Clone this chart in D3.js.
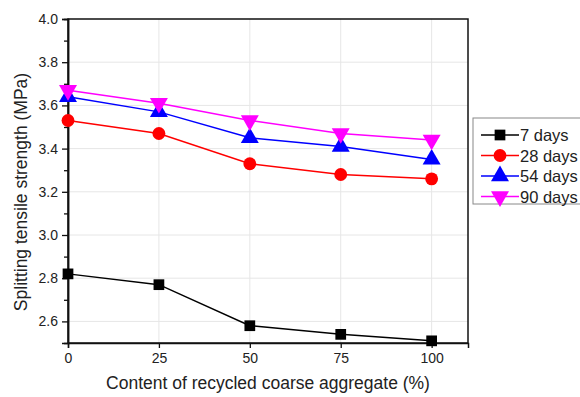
<!DOCTYPE html>
<html lang="en">
  <head>
    <script src="https://d3js.org/d3.v7.min.js"></script>
    <style>
      body { margin: 0; background: #fff; }
      text { font-family: "Liberation Sans", Arial, sans-serif; fill: #222; }
    </style>
  </head>
  <body>
    <div id="chart"></div>
    <script>
      const contents = [0, 25, 50, 75, 100];
      const seriesNames = ["7 days", "28 days", "54 days", "90 days"];
      const days7 = [2.82, 2.77, 2.58, 2.54, 2.51];
      const days28 = [3.53, 3.47, 3.33, 3.28, 3.26];
      const days54 = [3.64, 3.57, 3.45, 3.41, 3.35];
      const days90 = [3.67, 3.61, 3.53, 3.47, 3.44];
      const yTicks = [2.6, 2.8, 3.0, 3.2, 3.4, 3.6, 3.8, 4.0];
      const colors = ["#000000", "#ff0000", "#0000ff", "#ff00ff"];
      const symbols = [d3.symbolSquare, d3.symbolCircle, d3.symbolTriangle, d3.symbolTriangle];

      const width = 580, height = 397;
      const mLeft = 68, mRight = 468, mTop = 19, mBottom = 343;

      const svg = d3.select("#chart").append("svg")
        .attr("width", width).attr("height", height);

      const x = d3.scaleLinear().domain([0, 110]).range([mLeft, mRight]);
      const y = d3.scaleLinear().domain([2.5, 4.0]).range([mBottom, mTop]);

      // grid
      svg.append("g").selectAll("line").data(yTicks.slice(0, -1)).join("line")
        .attr("x1", mLeft).attr("x2", mRight)
        .attr("y1", d => y(d)).attr("y2", d => y(d))
        .attr("stroke", "#e6e6e6").attr("stroke-width", 1);
      svg.append("g").selectAll("line").data(contents.slice(1)).join("line")
        .attr("x1", d => x(d)).attr("x2", d => x(d))
        .attr("y1", mTop).attr("y2", mBottom)
        .attr("stroke", "#e6e6e6").attr("stroke-width", 1);

      // frame
      svg.append("rect").attr("x", mLeft).attr("y", mTop)
        .attr("width", mRight - mLeft).attr("height", mBottom - mTop)
        .attr("fill", "none").attr("stroke", "#111").attr("stroke-width", 1.5);

      // axes
      const xAxis = svg.append("g").attr("transform", `translate(0,${mBottom})`)
        .call(d3.axisBottom(x).tickValues(contents).tickSize(5).tickPadding(5).tickFormat(d3.format("d")));
      const yAxis = svg.append("g").attr("transform", `translate(${mLeft},0)`)
        .call(d3.axisLeft(y).tickValues(yTicks).tickSize(6).tickPadding(4).tickFormat(d3.format(".1f")));
      const yMinor = svg.append("g").attr("transform", `translate(${mLeft},0)`)
        .call(d3.axisLeft(y).tickValues(d3.range(2.7, 4.0, 0.2)).tickSize(4).tickFormat(""));
      [xAxis, yAxis, yMinor].forEach(g => {
        g.select(".domain").attr("stroke", "#111").attr("stroke-width", 1.5);
        g.selectAll(".tick line").attr("stroke", "#111").attr("stroke-width", 1.3);
        g.selectAll("text").attr("font-size", 14).attr("fill", "#222")
          .style("font-family", '"Liberation Sans", Arial, sans-serif');
      });

      svg.append("text").attr("x", 268).attr("y", 389)
        .attr("text-anchor", "middle").attr("font-size", 17.5)
        .text("Content of recycled coarse aggregate (%)");
      svg.append("text").attr("transform", `translate(27,192) rotate(-90)`)
        .attr("text-anchor", "middle").attr("font-size", 17.5)
        .text("Splitting tensile strength (MPa)");

      const allSeries = [days7, days28, days54, days90];
      const line = d3.line().x((d, i) => x(contents[i])).y(d => y(d));
      const sizes = [115, 130, 140, 140];

      function marker(sel, i) {
        sel.attr("d", d3.symbol().type(symbols[i]).size(sizes[i]))
          .attr("fill", colors[i]);
      }

      allSeries.forEach((vals, i) => {
        svg.append("path").datum(vals).attr("d", line)
          .attr("fill", "none").attr("stroke", colors[i]).attr("stroke-width", 1.5);
        svg.append("g").selectAll("path").data(vals).join("path")
          .attr("transform", (d, j) => `translate(${x(contents[j])},${y(d)})${i === 3 ? " rotate(180)" : ""}`)
          .call(marker, i);
      });

      // legend
      const lg = svg.append("g");
      lg.append("rect").attr("x", 473).attr("y", 118).attr("width", 120).attr("height", 86)
        .attr("fill", "#fff").attr("stroke", "#888").attr("stroke-width", 1);
      seriesNames.forEach((name, i) => {
        const ly = 135 + i * 20.5;
        lg.append("line").attr("x1", 481).attr("x2", 519).attr("y1", ly).attr("y2", ly)
          .attr("stroke", colors[i]).attr("stroke-width", 1.5);
        lg.append("path").attr("transform", `translate(500,${ly})${i === 3 ? " rotate(180)" : ""}`)
          .call(marker, i);
        lg.append("text").attr("x", 520).attr("y", ly + 6).attr("font-size", 16.5).text(name);
      });
    </script>
  </body>
</html>
